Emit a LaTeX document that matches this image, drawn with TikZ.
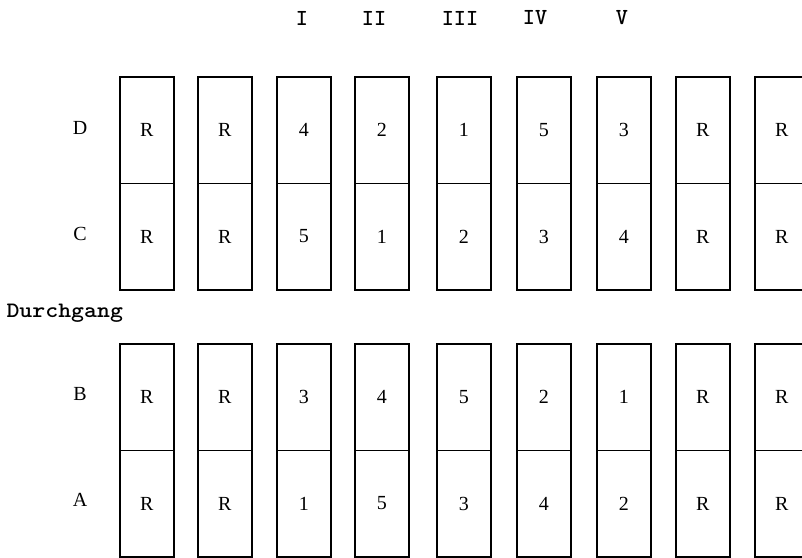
\documentclass[tikz,border=0pt]{standalone}
\usepackage{fontspec}
\newfontfamily\cellfont{Liberation Serif}
\begin{document}
\begin{tikzpicture}[x=1pt,y=-1pt,
  cell/.style={draw, line width=1.5pt, minimum width=54pt, minimum height=106.5pt,
    inner sep=0pt, font=\fontsize{20}{20}\cellfont},
  rowlab/.style={font=\fontsize{20}{20}\cellfont},
  numlab/.style={font=\fontsize{23}{23}\ttfamily\bfseries},
  passlab/.style={font=\fontsize{22}{22}\ttfamily\bfseries, anchor=west}]
\useasboundingbox (0,0) rectangle (802,557);
% column left edges and contents (D, C, B, A)
\foreach \i/\x/\d/\c/\b/\a in {1/119/R/R/R/R, 2/197/R/R/R/R, 3/276/4/5/3/1, 4/354/2/1/4/5,
    5/436/1/2/5/3, 6/516/5/3/2/4, 7/596/3/4/1/2, 8/675/R/R/R/R, 9/754/R/R/R/R}{
  \node[cell, anchor=north west] (d\i) at (\x,76) {\d};
  \node[cell, anchor=north west] (c\i) at (\x,182.5) {\c};
  \node[cell, anchor=north west] (b\i) at (\x,343) {\b};
  \node[cell, anchor=north west] (a\i) at (\x,449.5) {\a};
}
% row labels
\node[rowlab] (ld) at (80,128) {D};
\node[rowlab] (lc) at (80,234) {C};
\node[rowlab] (lb) at (80,394) {B};
\node[rowlab] (la) at (80,500) {A};
% column numerals
\node[numlab] (n1) at (302,18) {I};
\node[numlab] (n2) at (374,18) {II};
\node[numlab] (n3) at (460,18) {III};
\node[numlab] (n4) at (535,18) {IV};
\node[numlab] (n5) at (622,18) {V};
% aisle
\node[passlab] (pass) at (3,313) {\scalebox{1.12}[1]{Durchgang}};
\end{tikzpicture}
\end{document}
